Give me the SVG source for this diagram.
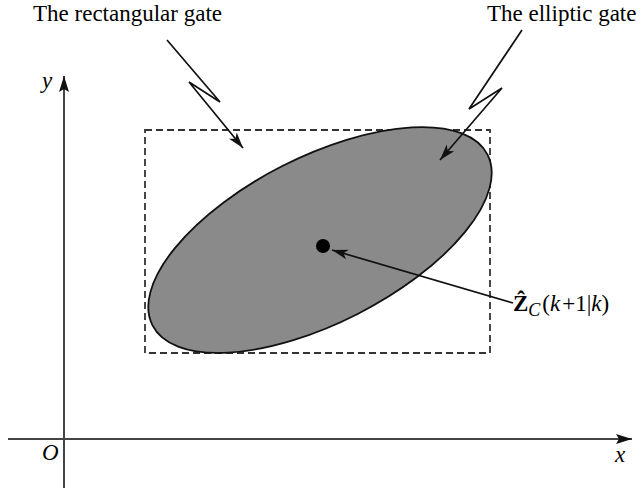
<svg xmlns="http://www.w3.org/2000/svg" width="644" height="492" viewBox="0 0 644 492">
<style>
.lbl{font-family:"Liberation Serif","Times New Roman",serif;font-size:23px;fill:#000}
.it{font-style:italic}
.axis{stroke:#444;stroke-width:2;fill:none}
.ptr{stroke:#111;stroke-width:1.7;fill:none}
</style>
<defs>
<marker id="ah" markerUnits="userSpaceOnUse" markerWidth="18" markerHeight="12" refX="16" refY="6" orient="auto">
<path d="M0,1 L16,6 L0,11 L4,6 z" fill="#111"/>
</marker>
<marker id="ax" markerUnits="userSpaceOnUse" markerWidth="18" markerHeight="12" refX="16" refY="6" orient="auto">
<path d="M0,1 L16,6 L0,11 L3,6 z" fill="#111"/>
</marker>
</defs>
<g id="axes">
<line class="axis" x1="8" y1="439" x2="632" y2="439" marker-end="url(#ax)"/>
<line class="axis" x1="64" y1="488" x2="64" y2="76" marker-end="url(#ax)"/>
<text class="lbl it" x="42" y="88">y</text>
<text class="lbl it" x="42" y="460">O</text>
<text class="lbl it" x="615" y="462">x</text>
</g>
<g id="rect-gate">
<rect x="145" y="130" width="345" height="223" fill="none" stroke="#333" stroke-width="1.8" stroke-dasharray="7,4"/>
</g>
<g id="ellipse-gate">
<ellipse cx="320" cy="240" rx="188" ry="83" transform="rotate(-27 320 240)" fill="#8a8a8a" stroke="#111" stroke-width="1.8"/>
</g>
<g id="center">
<circle cx="323" cy="246" r="7" fill="#000"/>
</g>
<g id="connectors">
<polyline class="ptr" points="167,40 220,102 189,82 243,148" marker-end="url(#ah)"/>
<polyline class="ptr" points="522,30 469,109 502,88 440,160" marker-end="url(#ah)"/>
<line class="ptr" x1="513" y1="303" x2="332" y2="250" marker-end="url(#ah)"/>
</g>
<g id="labels">
<text class="lbl" x="33" y="21">The rectangular gate</text>
<text class="lbl" x="487" y="21">The elliptic gate</text>
<text class="lbl" x="513" y="311"><tspan font-weight="bold">Ẑ</tspan><tspan class="it" font-size="18" dy="5">C</tspan><tspan dy="-5" dx="2">(</tspan><tspan class="it">k</tspan><tspan dx="2">+</tspan>1|<tspan class="it">k</tspan>)</text>
</g>
</svg>
